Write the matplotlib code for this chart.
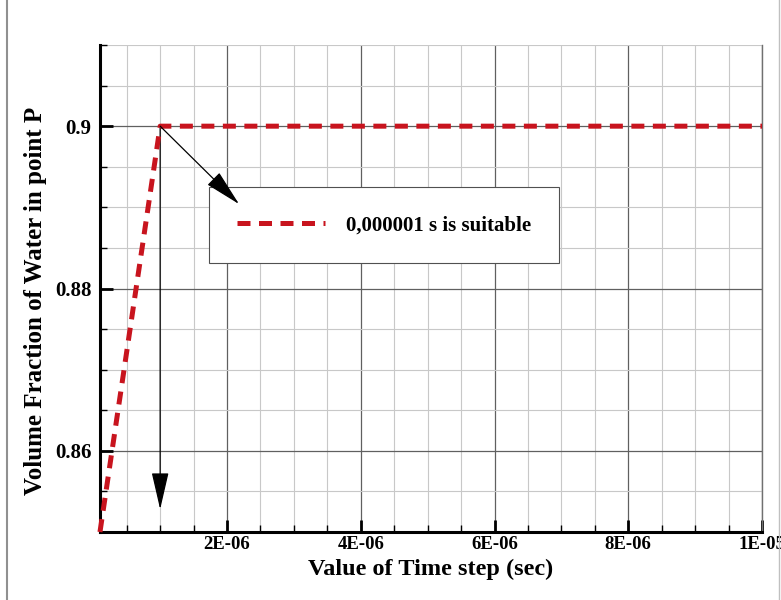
import matplotlib
matplotlib.use("Agg")
import matplotlib.pyplot as plt
from matplotlib.ticker import FixedLocator, MultipleLocator
from matplotlib.lines import Line2D

# Data
time_step = [1e-7, 1e-6, 2e-6, 3e-6, 4e-6, 5e-6, 6e-6, 7e-6, 8e-6, 9e-6, 1e-5]
vol_frac = [0.85, 0.90, 0.90, 0.90, 0.90, 0.90, 0.90, 0.90, 0.90, 0.90, 0.90]
x_ticks = [2e-6, 4e-6, 6e-6, 8e-6, 1e-5]
x_tick_labels = ["2E-06", "4E-06", "6E-06", "8E-06", "1E-05"]
y_ticks = [0.86, 0.88, 0.90]
y_tick_labels = ["0.86", "0.88", "0.9"]
series_label = "0,000001 s is suitable"
chosen_step = 1e-6

plt.rcParams['font.family'] = ['Liberation Serif', 'DejaVu Serif']
plt.rcParams['font.weight'] = 'bold'

fig = plt.figure(figsize=(7.81, 6.00), dpi=100)
ax = fig.add_axes([0.128, 0.1133, 0.8477, 0.8117])

red = '#c8141e'
ax.plot(time_step, vol_frac, color=red, lw=3.6, dashes=(2.6, 1.7),
        label=series_label, zorder=5, clip_on=False)

ax.set_xlim(1e-7, 1e-5)
ax.set_ylim(0.85, 0.91)

ax.xaxis.set_major_locator(FixedLocator(x_ticks))
ax.set_xticklabels(x_tick_labels)
ax.xaxis.set_minor_locator(MultipleLocator(0.5e-6))
ax.yaxis.set_major_locator(FixedLocator(y_ticks))
ax.set_yticklabels(y_tick_labels)
ax.yaxis.set_minor_locator(MultipleLocator(0.005))

ax.grid(which='major', color='#606060', lw=0.9)
ax.grid(which='minor', color='#c8c8c8', lw=0.8)
ax.set_axisbelow(True)

ax.tick_params(which='major', direction='in', length=9, width=2.0,
               labelsize=15, pad=6, colors='black')
ax.tick_params(which='minor', direction='in', length=5, width=1.0)
ax.tick_params(axis='x', which='major', pad=3, labelsize=13.5)
for lab in ax.get_xticklabels() + ax.get_yticklabels():
    lab.set_fontweight('bold')

ax.spines['top'].set_visible(False)
ax.spines['right'].set_color('#707070')
ax.spines['right'].set_linewidth(1.0)
ax.spines['left'].set_linewidth(2.2)
ax.spines['bottom'].set_linewidth(2.2)
ax.tick_params(right=False, top=False)

ax.set_xlabel("Value of Time step (sec)", fontsize=17.5, fontweight='bold')
ax.xaxis.set_label_coords(0.5, -0.054)
ax.set_ylabel("Volume Fraction of Water in point P", fontsize=18, fontweight='bold')
ax.yaxis.set_label_coords(-0.08, 0.474)

# Arrows
arrow_kw = dict(arrowstyle='-|>,head_length=1.3,head_width=0.3', color='black',
                lw=0.9, mutation_scale=18, shrinkA=0, shrinkB=0)
ax.annotate("", xy=(chosen_step, 0.8528), xytext=(chosen_step, 0.90),
            arrowprops=arrow_kw, zorder=4)
ax.annotate("", xy=(2.18e-6, 0.8904), xytext=(chosen_step, 0.90),
            arrowprops=arrow_kw, zorder=6)

leg = ax.legend(loc='upper left', bbox_to_anchor=(0.165, 0.708), borderaxespad=0,
                fontsize=15, handlelength=4.2, handletextpad=1.0, borderpad=1.35,
                fancybox=False, framealpha=1, edgecolor='#505050')
leg.get_frame().set_linewidth(0.8)
for t in leg.get_texts():
    t.set_fontweight('bold')

# figure border lines seen in the reference
fig.add_artist(Line2D([7/781, 7/781], [0, 1], color='#909090', lw=1.5))
fig.add_artist(Line2D([779/781, 779/781], [0, 1], color='#c0c0c0', lw=1.0))

fig.savefig("out.png", dpi=100)
